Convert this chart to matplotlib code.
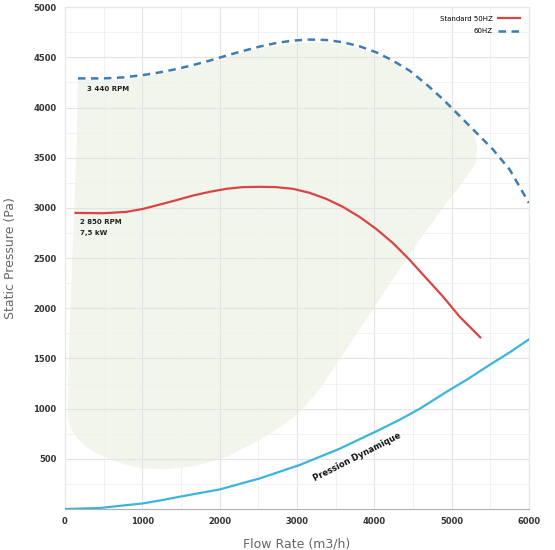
import matplotlib
matplotlib.use("Agg")
import matplotlib.pyplot as plt
import numpy as np
from matplotlib.patches import Polygon

# 60 Hz curve (3 440 RPM)
hz60_x = [168, 491, 750, 1009, 1224, 1440, 1655, 1871, 2086, 2302, 2517, 2733, 2948, 3164, 3379,
          3595, 3810, 4026, 4241, 4457, 4672, 4888, 5103, 5319, 5534, 5750, 6000]
hz60_y = [4290, 4290, 4300, 4323, 4350, 4383, 4423, 4467, 4517, 4563, 4607, 4643, 4667, 4677, 4673,
          4650, 4610, 4550, 4467, 4367, 4233, 4083, 3917, 3750, 3583, 3383, 3050]

# 50 Hz curve (2 850 RPM, 7,5 kW)
hz50_x = [138, 491, 793, 1009, 1224, 1440, 1655, 1871, 2086, 2302, 2517, 2733, 2948, 3164, 3379,
          3595, 3810, 4026, 4241, 4457, 4672, 4888, 5103, 5371]
hz50_y = [2950, 2947, 2960, 2990, 3033, 3077, 3123, 3160, 3190, 3207, 3210, 3207, 3190, 3150, 3090,
          3010, 2910, 2790, 2650, 2483, 2300, 2117, 1917, 1710]

# Dynamic pressure
dyn_x = [0, 450, 750, 1000, 1230, 1500, 2000, 2520, 3040, 3550, 4070, 4330, 4590, 4940, 5200, 5500, 5750, 6000]
dyn_y = [0, 10, 35, 55, 85, 125, 195, 305, 440, 600, 790, 890, 1000, 1170, 1290, 1440, 1560, 1690]

# Operating region (shaded)
region_x = [168, 150, 120, 90, 60, 45, 40, 50, 90, 160, 260, 400, 600, 800, 1000, 1300, 1700, 2100,
            2519, 2800, 3036, 3300, 3595, 4026, 4457, 4888, 5150, 5319, 5330, 5276, 5103, 4888,
            4672, 4241, 3810, 3379, 2948, 2517, 2086, 1655, 1224, 750]
region_y = [4273, 3600, 3000, 2400, 1800, 1300, 1000, 880, 780, 700, 630, 560, 490, 440, 405, 395,
            430, 520, 690, 820, 970, 1200, 1540, 2040, 2540, 3000, 3260, 3450, 3620, 3783, 3950,
            4090, 4230, 4450, 4590, 4650, 4640, 4590, 4500, 4410, 4330, 4280]

x_ticks = [0, 1000, 2000, 3000, 4000, 5000, 6000]
y_ticks = [500, 1000, 1500, 2000, 2500, 3000, 3500, 4000, 4500, 5000]

fig = plt.figure(figsize=(5.55, 5.5), dpi=100)
ax = fig.add_axes([0.117, 0.0745, 0.836, 0.9125])

ax.add_patch(Polygon(np.column_stack([region_x, region_y]), closed=True,
                     facecolor="#f2f5ec", edgecolor="none", zorder=0.5))

ax.plot(dyn_x, dyn_y, color="#3db4dc", lw=1.6, zorder=3)
ax.plot(hz50_x, hz50_y, color="#d94545", lw=1.6, zorder=3, label="Standard 50HZ")
ax.plot(hz60_x, hz60_y, color="#3e7db0", lw=1.8, ls=(0, (3, 2.2)), zorder=3, label="60HZ")

ax.set_xlim(0, 6000)
ax.set_ylim(0, 5000)
ax.set_xticks(x_ticks)
ax.set_yticks(y_ticks)
ax.set_xticks(np.arange(500, 6000, 1000), minor=True)
ax.set_yticks(np.arange(250, 5000, 500), minor=True)
ax.grid(True, which="major", color="#e4e4e4", lw=0.8, zorder=1)
ax.grid(True, which="minor", color="#f0f0f0", lw=0.6, zorder=1)
ax.set_axisbelow(True)
ax.tick_params(which="both", length=0)
ax.tick_params(axis="both", labelsize=6, colors="#333333", pad=6)
for lbl in ax.get_xticklabels() + ax.get_yticklabels():
    lbl.set_fontweight("bold")
for s in ax.spines.values():
    s.set_color("#e6e6e6")
    s.set_linewidth(0.8)
ax.spines["bottom"].set_color("#b0b0b0")

ax.set_xlabel("Flow Rate (m3/h)", fontsize=9, color="#666666", labelpad=8)
ax.set_ylabel("Static Pressure (Pa)", fontsize=9, color="#666666", labelpad=12)

ax.text(284, 4183, "3 440 RPM", fontsize=5, fontweight="bold", color="#222222", va="center")
ax.text(194, 2859, "2 850 RPM", fontsize=5, fontweight="bold", color="#222222", va="center")
ax.text(194, 2749, "7,5 kW", fontsize=5, fontweight="bold", color="#222222", va="center")
ax.text(3780, 520, "Pression Dynamique", fontsize=6, fontweight="bold", color="#111111",
        rotation=27, ha="center", va="center")

leg = ax.legend(loc="upper right", frameon=False, fontsize=5, markerfirst=False,
                handlelength=3.2, labelspacing=0.9, bbox_to_anchor=(0.995, 0.995))

fig.savefig("out.png", dpi=100)
